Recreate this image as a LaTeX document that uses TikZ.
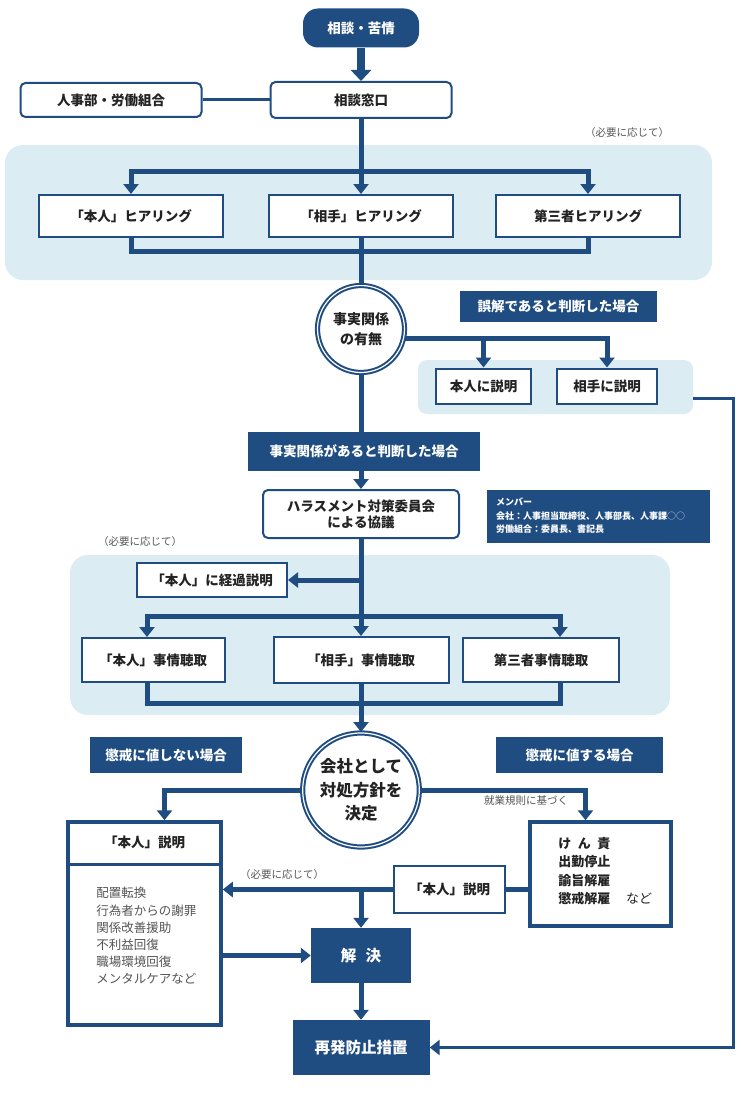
\documentclass[tikz,border=0pt]{standalone}
\usepackage{fontspec}
\setmainfont{Noto Sans CJK JP}
\usepackage{xcolor}
\usepackage{tikz}
\usetikzlibrary{arrows.meta,positioning,shapes.geometric}
\definecolor{navy}{RGB}{31,77,130}
\definecolor{pale}{RGB}{220,236,243}
\definecolor{ink}{RGB}{35,35,35}
\definecolor{grey}{RGB}{85,85,85}
\tikzstyle{box} = [draw=navy, line width=2pt, fill=white, rectangle, text=ink,
minimum height=42pt, minimum width=184pt, font=\bfseries\fontsize{13.5}{16}\selectfont]
\tikzstyle{rbox} = [box, rounded corners=5pt]
\tikzstyle{tag} = [fill=navy, rectangle, text=white, inner sep=0pt,
font=\bfseries\fontsize{13.5}{16}\selectfont]
\tikzstyle{panel} = [fill=pale, rectangle, rounded corners=18pt]
\tikzstyle{frame} = [draw=navy, line width=3.5pt, fill=white, rectangle]
\tikzstyle{ring} = [draw=navy, double=white, double distance=1.2pt, line width=2pt,
fill=white, text=ink, align=center, inner sep=0pt]
\tikzstyle{flow} = [draw=navy, line width=5pt]
\tikzstyle{link} = [draw=navy, line width=3pt]
\tikzstyle{remark} = [text=grey, font=\fontsize{10.5}{12}\selectfont]

\begin{document}
\begin{tikzpicture}[x=1pt, y=-1pt, >={Triangle[length=10pt,width=15pt]}]
	\path[use as bounding box, fill=white] (0,0) rectangle (740,1113);
	% light panels go first, everything else sits on them
	\node[panel, minimum width=707pt, minimum height=135pt] (panelA) at (358.5,212.5) {};
	\node[panel, rounded corners=9pt, minimum width=275pt, minimum height=54pt] (panelB) at (555.5,387) {};
	\node[panel, minimum width=600pt, minimum height=160pt] (panelC) at (370,635) {};

	% intake and first hearings
	\node[tag, rounded corners=15pt, minimum width=116pt, minimum height=39pt] (start) at (361,28) {相談・苦情};
	\node[rbox, minimum width=181pt, minimum height=36pt] (window) at (361,100) {相談窓口};
	\node[rbox, minimum width=181pt, minimum height=34pt, left of=window, node distance=250pt] (staff) {人事部・労働組合};
	\node[remark] (needA) at (627,133) {（必要に応じて）};
	\node[box] (hearB) at (361,216) {「相手」ヒアリング};
	\node[box, left of=hearB, node distance=230pt] (hearA) {「本人」ヒアリング};
	\node[box, right of=hearB, node distance=227pt] (hearC) {第三者ヒアリング};
	\coordinate (splitA) at (361,171);
	\coordinate (joinA) at (361,251);

	\draw[->, color=navy, line width=8pt, >={Triangle[length=11pt,width=20pt]}] (start) -- (window);
	\draw[link] (staff) -- (window);
	\draw[flow] (window) -- (splitA);
	\draw[flow,->] (splitA) -| (hearA);
	\draw[flow,->] (splitA) -- (hearB);
	\draw[flow,->] (splitA) -| (hearC);
	\draw[flow] (hearA) |- (joinA) -| (hearC);

	% do the facts hold?
	\node[ring, circle, minimum size=87pt, font=\bfseries\fontsize{14}{19.5}\selectfont] (fact) at (361,329) {事実関係\\の有無};
	\draw[flow] (hearB) -- (fact);
	\node[tag, minimum width=197pt, minimum height=31pt] (wrong) at (558.5,306) {誤解であると判断した場合};
	\node[box, minimum width=95pt, minimum height=35pt] (tellA) at (483.5,386) {本人に説明};
	\node[box, minimum width=100pt, minimum height=35pt] (tellB) at (607,386) {相手に説明};
	\coordinate (splitB) at (fact.-12 -| tellA);
	\draw[flow,->] (fact.-12) -| (tellB);
	\draw[flow,->] (splitB) -- (tellA);

	% committee
	\node[rbox, minimum width=196pt, minimum height=48pt, align=center] (council) at (361,514) {ハラスメント対策委員会\\による協議};
	\draw[flow,->] (fact) -- (council);
	\node[tag, minimum width=232pt, minimum height=39pt] (found) at (364,451.5) {事実関係があると判断した場合};
	\node[tag, minimum width=223pt, minimum height=53pt, align=left, text width=205pt,
	font=\bfseries\fontsize{9}{13.5}\selectfont] (member) at (598.5,516)
	{メンバー\\会社：人事担当取締役、人事部長、人事課\textcolor{navy!35!white}{○○}\\労働組合：委員長、書記長};
	\node[remark] (needB) at (140,542) {（必要に応じて）};

	\node[box, minimum width=150pt, minimum height=34pt] (progress) at (212,580) {「本人」に経過説明};
	\node[box, minimum width=175pt, minimum height=46pt] (askB) at (361,660) {「相手」事情聴取};
	\node[box, minimum width=143pt, minimum height=44pt, left of=askB, node distance=208pt] (askA) {「本人」事情聴取};
	\node[box, minimum width=156pt, minimum height=44pt, right of=askB, node distance=180pt] (askC) {第三者事情聴取};
	\coordinate (splitC) at (361,616);
	\coordinate (joinC) at (361,703);
	\draw[flow,->] (council) -- (askB);
	\draw[flow,->] (council.south |- progress) -- (progress);
	\draw[flow,->] (splitC) -| ([xshift=-6pt]askA.north);
	\draw[flow,->] (splitC) -| ([xshift=19pt]askC.north);
	\draw[flow] ([xshift=-6pt]askA.south) |- (joinC) -| ([xshift=19pt]askC.south);

	% company decision
	\node[ring, ellipse, minimum width=106pt, minimum height=114pt, font=\bfseries\fontsize{16.5}{23.5}\selectfont] (policy) at (361,790) {会社として\\対処方針を\\決定};
	\draw[flow,->] (askB) -- (policy);
	\node[tag, minimum width=152pt, minimum height=36pt] (noDisc) at (166,755) {懲戒に値しない場合};
	\node[tag, minimum width=167pt, minimum height=36pt] (disc) at (579.5,755) {懲戒に値する場合};

	\node[frame, minimum width=153pt, minimum height=203pt] (okbox) at (144.5,923.5) {};
	\draw[color=navy, line width=3pt] ([yshift=-44pt]okbox.north west) -- ([yshift=-44pt]okbox.north east);
	\node[text=ink, font=\bfseries\fontsize{13.5}{16}\selectfont] (okhead) at ([yshift=-22pt]okbox.north) {「本人」説明};
	\node[anchor=north west, inner sep=0pt, align=left, text=grey, font=\fontsize{12.5}{17.2}\selectfont] (oklist)
	at ([xshift=30pt,yshift=-67pt]okbox.north west) {配置転換\\行為者からの謝罪\\関係改善援助\\不利益回復\\職場環境回復\\メンタルケアなど};
	\draw[flow,->] (policy.west) -| ([xshift=20pt]okbox.north);

	\node[frame, minimum width=141pt, minimum height=104pt] (ngbox) at (600.5,874) {};
	\node[anchor=north west, inner sep=0pt, align=left, text=ink, font=\bfseries\fontsize{13}{18.3}\selectfont] (nglist)
	at ([xshift=30pt,yshift=-17pt]ngbox.north west) {け\hspace{0.5em}ん\hspace{0.5em}責\\出勤停止\\諭旨解雇\\懲戒解雇\hspace{1.2em}{\mdseries など}};
	\draw[flow,->] (policy.east) -| ([xshift=-15pt]ngbox.north);
	\node[remark] (rule) at (526,801) {就業規則に基づく};

	\node[box, line width=2.5pt, minimum width=111pt, minimum height=47pt] (ngtell) at (449.5,889.5) {「本人」説明};
	\draw[flow] (ngbox.west |- ngtell) -- (ngtell);
	\draw[flow,->] (ngtell) -- (okbox.east |- ngtell);
	\node[remark] (needC) at (282,874) {（必要に応じて）};

	% outcome
	\node[tag, minimum width=100pt, minimum height=55pt, font=\bfseries\fontsize{15.5}{18}\selectfont] (solve) at (361,955.5) {解\hspace{0.6em}決};
	\node[tag, minimum width=137pt, minimum height=55pt, font=\bfseries\fontsize{15.5}{18}\selectfont] (prevent) at (361,1047.5) {再発防止措置};
	\draw[flow,->] (solve.north |- ngtell) -- (solve);
	\draw[flow,->] (okbox.east |- solve) -- (solve);
	\draw[flow,->] (solve) -- (prevent);
	\coordinate (back) at (733,398);
	\draw[link,->] ([yshift=-11pt]panelB.east) -- (back) |- (prevent);
\end{tikzpicture}
\end{document}
